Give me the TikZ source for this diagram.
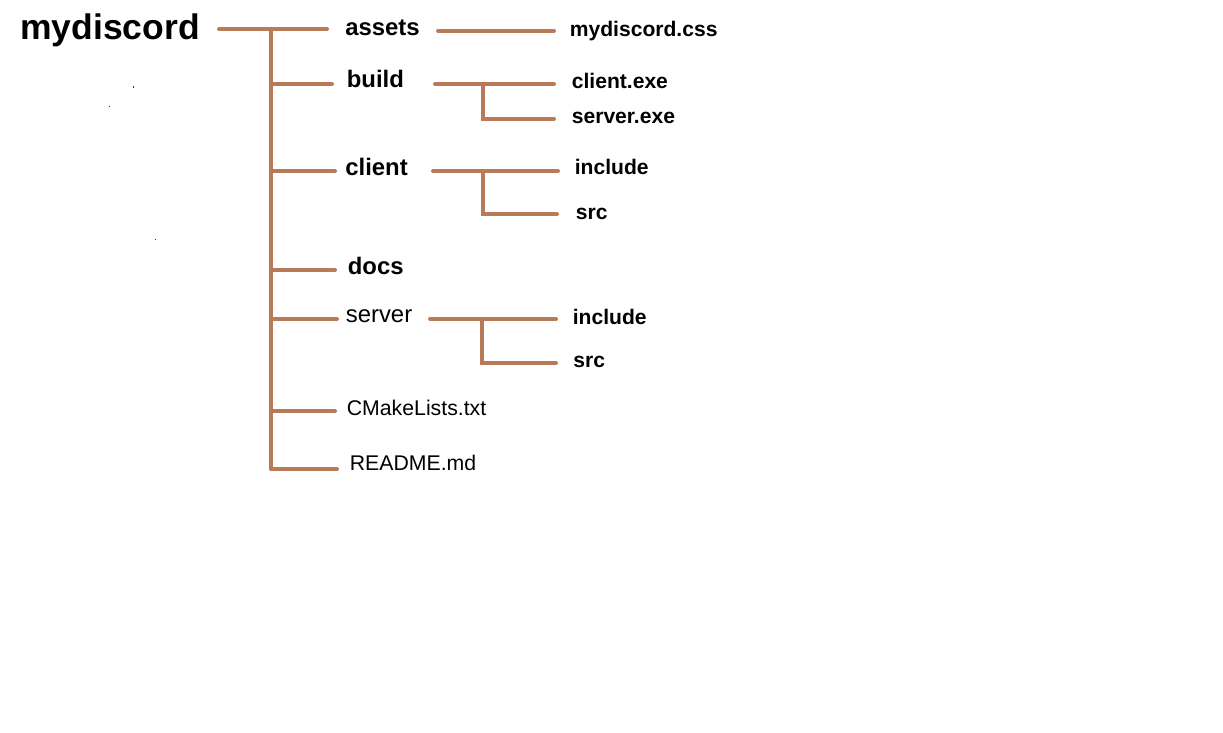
\documentclass[tikz,border=0pt]{standalone}
\usepackage{fontspec}
\setmainfont{Liberation Sans}
\usepackage{tikz}
\definecolor{branchbrown}{RGB}{185,122,87}
\tikzset{
  branch/.style={draw=branchbrown, line width=0.08cm, line cap=round},
  rootname/.style={anchor=base west, inner sep=0pt, font=\fontsize{20.2}{24}\selectfont\bfseries},
  dirname/.style={anchor=base west, inner sep=0pt, font=\fontsize{13.6}{16}\selectfont\bfseries},
  dirplain/.style={anchor=base west, inner sep=0pt, font=\fontsize{13.6}{16}\selectfont},
  filename/.style={anchor=base west, inner sep=0pt, font=\fontsize{12}{14}\selectfont\bfseries},
  fileplain/.style={anchor=base west, inner sep=0pt, font=\fontsize{12.1}{14}\selectfont},
}

\begin{document}
\begin{tikzpicture}[x=0.02cm, y=-0.02cm]
    \useasboundingbox (0,0) rectangle (1223,733);
    % names
    \node[rootname] (root) at (20,40) {mydiscord};
    \node[dirname] (assets) at (345,36) {assets};
    \node[dirname] (build) at (346.5,88) {build};
    \node[dirname] (client) at (345,176) {client};
    \node[dirname] (docs) at (347.5,274) {docs};
    \node[dirplain] (server) at (345.5,322.5) {server};
    \node[fileplain] (cmake) at (346.5,415.5) {CMakeLists.txt};
    \node[fileplain] (readme) at (349.5,470) {README.md};
    \node[filename] (css) at (569.5,37) {mydiscord.css};
    \node[filename] (clientexe) at (571.5,89) {client.exe};
    \node[filename] (serverexe) at (571.5,124) {server.exe};
    \node[filename] (clientinc) at (574.5,175) {include};
    \node[filename] (clientsrc) at (575.5,219) {src};
    \node[filename] (serverinc) at (572.5,324) {include};
    \node[filename] (serversrc) at (573,367.5) {src};
    % trunk
    \coordinate (rootL) at (219,29);
    \coordinate (rootR) at (327,29);
    \coordinate (trunkT) at (271,29);
    \coordinate (trunkB) at (271,469);
    \coordinate (buildR) at (332,84);
    \coordinate (clientR) at (335,171);
    \coordinate (docsR) at (335,270);
    \coordinate (serverR) at (337,319);
    \coordinate (cmakeR) at (335,411);
    \coordinate (readmeR) at (337,469);
    \draw[branch] (rootL) -- (rootR);
    \draw[branch] (trunkT) -- (trunkB);
    \draw[branch] (trunkT |- buildR) -- (buildR);
    \draw[branch] (trunkT |- clientR) -- (clientR);
    \draw[branch] (trunkT |- docsR) -- (docsR);
    \draw[branch] (trunkT |- serverR) -- (serverR);
    \draw[branch] (trunkT |- cmakeR) -- (cmakeR);
    \draw[branch] (trunkT |- readmeR) -- (readmeR);
    % sub folders
    \coordinate (assetsA) at (438,31);
    \coordinate (assetsB) at (554,31);
    \draw[branch] (assetsA) -- (assetsB);
    \coordinate (buildA) at (435,84);
    \coordinate (buildB) at (554,84);
    \coordinate (buildF) at (483,84);
    \coordinate (buildC) at (554,119);
    \draw[branch] (buildA) -- (buildB);
    \draw[branch] (buildF) -- (buildF |- buildC) -- (buildC);
    \coordinate (clientA) at (433,171);
    \coordinate (clientB) at (558,171);
    \coordinate (clientF) at (483,171);
    \coordinate (clientC) at (557,214);
    \draw[branch] (clientA) -- (clientB);
    \draw[branch] (clientF) -- (clientF |- clientC) -- (clientC);
    \coordinate (serverA) at (430,319);
    \coordinate (serverB) at (556,319);
    \coordinate (serverF) at (481.5,319);
    \coordinate (serverC) at (556,363);
    \draw[branch] (serverA) -- (serverB);
    \draw[branch] (serverF) -- (serverF |- serverC) -- (serverC);
    % stray specks
    \fill[black!80] (132.5,86.5) rectangle ++(1.2,1.2);
    \fill[black!80] (108.5,106) rectangle ++(1.2,1.2);
    \fill[black!80] (154.5,238.5) rectangle ++(1.2,1.2);
\end{tikzpicture}
\end{document}
